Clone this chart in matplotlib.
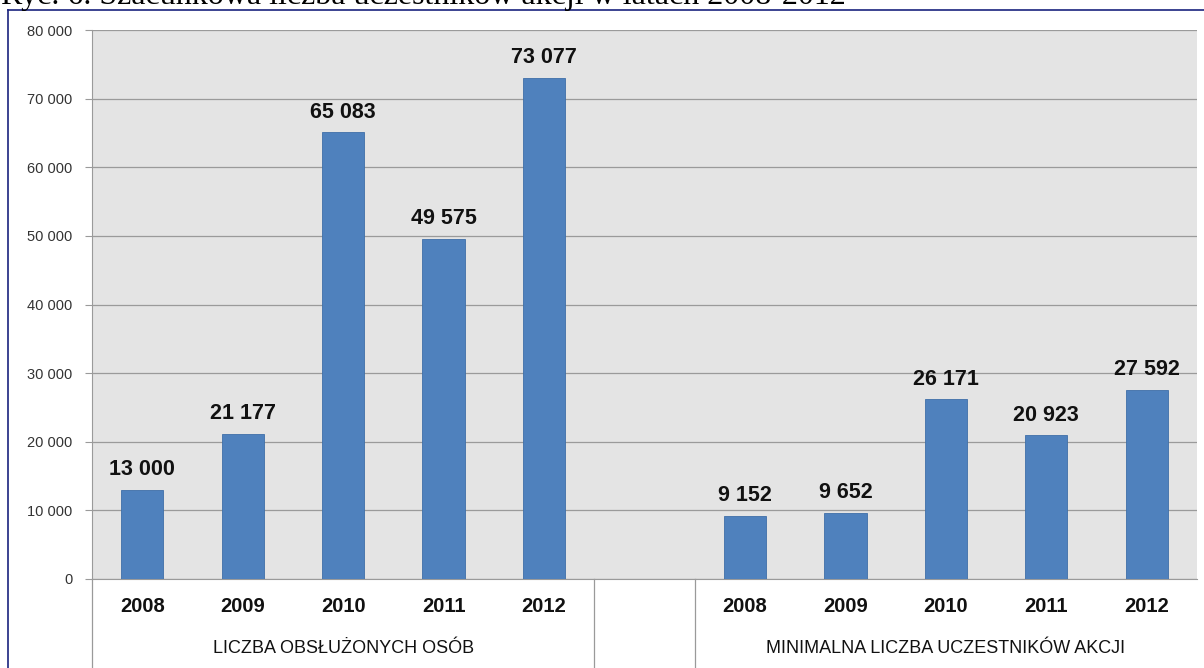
import matplotlib
matplotlib.use("Agg")
import matplotlib.pyplot as plt
from matplotlib.lines import Line2D
import matplotlib.transforms as mtransforms

# Chart data
years = ["2008", "2009", "2010", "2011", "2012"]
served = [13000, 21177, 65083, 49575, 73077]
participants = [9152, 9652, 26171, 20923, 27592]
group_labels = ["LICZBA OBSŁUŻONYCH OSÓB", "MINIMALNA LICZBA UCZESTNIKÓW AKCJI"]
y_ticks = [0, 10000, 20000, 30000, 40000, 50000, 60000, 70000, 80000]
title = "Ryc. 6. Szacunkowa liczba uczestników akcji w latach 2008-2012"

BAR_COLOR = "#4f81bd"
GRID_COLOR = "#9a9a9a"
FONT = "Liberation Sans"


def fmt(v):
    return f"{v:,}".replace(",", " ")


fig = plt.figure(figsize=(12.04, 6.68), dpi=100)
ax = fig.add_axes([92 / 1204, 1 - 579 / 668, (1197 - 92) / 1204, (579 - 30) / 668])
ax.set_facecolor("#e4e4e4")

# x positions: two groups of five with one empty slot between
x1 = list(range(len(years)))
x2 = [len(years) + 1 + i for i in range(len(years))]

for xs, vals in [(x1, served), (x2, participants)]:
    ax.bar(xs, vals, width=0.42, color=BAR_COLOR, edgecolor="#3f6fa8",
           linewidth=0.6, zorder=3)
    for x, v in zip(xs, vals):
        ax.annotate(fmt(v), (x, v), xytext=(0, 7), textcoords="offset points",
                    ha="center", va="bottom", fontsize=15.5, fontweight="bold",
                    family=FONT, color="#111111")

ax.set_xlim(-0.5, 10.5)
ax.set_ylim(0, 80000)
ax.set_yticks(y_ticks)
ax.set_yticklabels([fmt(t) for t in y_ticks], fontsize=10.5, family=FONT,
                   color="#333333")
ax.tick_params(axis="y", length=5, color=GRID_COLOR, pad=9)
ax.set_xticks([])
ax.grid(True, axis="y", color=GRID_COLOR, linewidth=0.9, zorder=0)
ax.set_axisbelow(True)

for side in ["top", "right"]:
    ax.spines[side].set_visible(False)
ax.spines["left"].set_color(GRID_COLOR)
ax.spines["bottom"].set_color(GRID_COLOR)

# Category axis below the plot
trans = mtransforms.blended_transform_factory(ax.transData, ax.transAxes)
for xs in (x1, x2):
    for x, yr in zip(xs, years):
        ax.text(x, -0.051, yr, transform=trans, ha="center", va="center",
                fontsize=14.5, fontweight="bold", family=FONT, color="#111111")
ax.text(2, -0.126, group_labels[0], transform=trans, ha="center", va="center",
        fontsize=13, family=FONT, color="#111111")
ax.text(8, -0.126, group_labels[1], transform=trans, ha="center", va="center",
        fontsize=13, family=FONT, color="#111111")

for xsep in (-0.5, 4.5, 5.5):
    ax.add_line(Line2D([xsep, xsep], [0, -0.17], transform=trans,
                       color=GRID_COLOR, linewidth=0.9, clip_on=False))

# Outer frame and cut-off caption
fig.add_artist(Line2D([8 / 1204, 8 / 1204], [0, 1 - 10 / 668],
                      transform=fig.transFigure, color="#1a237e", linewidth=1.2))
fig.add_artist(Line2D([8 / 1204, 1], [1 - 10 / 668, 1 - 10 / 668],
                      transform=fig.transFigure, color="#1a237e", linewidth=1.2))
fig.text(1 / 1204, 1 - 4 / 668, title, ha="left", va="baseline",
         fontsize=23, family="Liberation Serif", color="black")

fig.savefig("out.png", dpi=100)
